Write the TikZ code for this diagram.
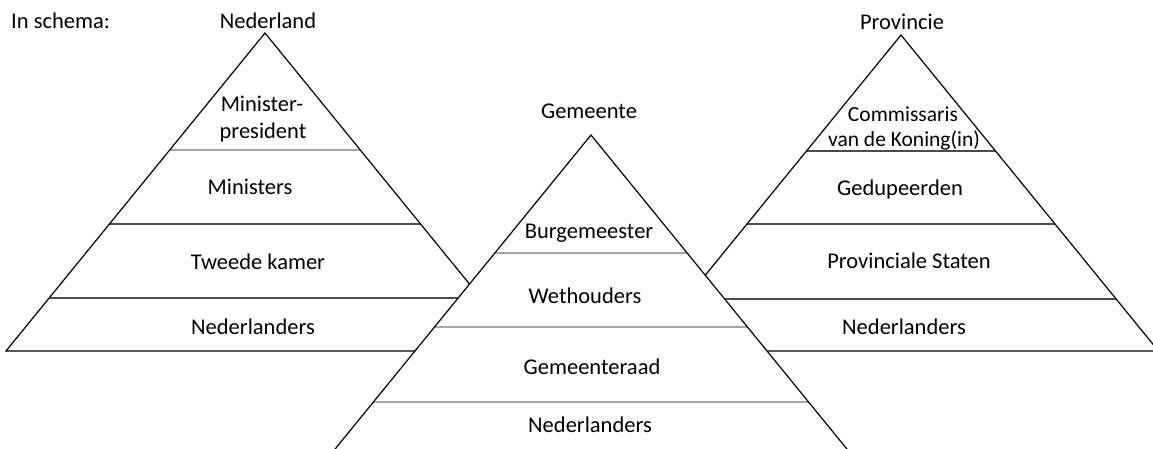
\documentclass[tikz,border=0pt]{standalone}
\usepackage{fontspec}
\setmainfont{Carlito}
\begin{document}
\begin{tikzpicture}[x=1pt,y=-1pt,
  fillw/.style={fill=white},
  outline/.style={draw=black,line width=1.2pt,line join=miter},
  divlight/.style={draw=black!35,line width=1.6pt},
  divdark/.style={draw=black!70,line width=1.4pt},
  lbl/.style={font=\fontsize{22.5}{27}\selectfont,inner sep=0pt,anchor=base},
  lbls/.style={font=\fontsize{21.5}{25}\selectfont,inner sep=0pt,anchor=base},
]
\useasboundingbox (0,0) rectangle (1153,448);
\clip (0,0) rectangle (1153,448);

% ---- left pyramid: Nederland
\coordinate (LA) at (265,33);
\coordinate (LR) at (524,351);
\coordinate (LL) at (6,351);
\path[fillw] (LA) -- (LR) -- (LL) -- cycle;
\begin{scope}
  \clip (LA) -- (LR) -- (LL) -- cycle;
  \draw[divlight] (0,150) -- (600,150);
  \draw[divdark] (0,224) -- (600,224);
  \draw[divdark] (0,298) -- (600,298);
\end{scope}
\draw[outline] (LA) -- (LR) -- (LL) -- cycle;

% ---- right pyramid: Provincie
\coordinate (RA) at (901,35);
\coordinate (RR) at (1158.5,351);
\coordinate (RL) at (643.5,351);
\path[fillw] (RA) -- (RR) -- (RL) -- cycle;
\begin{scope}
  \clip (RA) -- (RR) -- (RL) -- cycle;
  \draw[divdark] (600,151) -- (1200,151);
  \draw[divdark] (600,224) -- (1200,224);
  \draw[divdark] (600,299) -- (1200,299);
\end{scope}
\draw[outline] (RA) -- (RR) -- (RL) -- cycle;

% ---- middle pyramid: Gemeente
\coordinate (MA) at (591,135);
\coordinate (MR) at (868.9,476);
\coordinate (ML) at (313.1,476);
\path[fillw] (MA) -- (MR) -- (ML) -- cycle;
\begin{scope}
  \clip (MA) -- (MR) -- (ML) -- cycle;
  \draw[divlight] (300,253) -- (900,253);
  \draw[divlight] (300,327) -- (900,327);
  \draw[divlight] (300,402) -- (900,402);
\end{scope}
\draw[outline] (MA) -- (MR) -- (ML) -- cycle;

% ---- labels
\node[lbl,anchor=base west] (schema) at (11,28.5) {In schema:};
\node[lbl] (nl) at (268,28.5) {Nederland};
\node[lbl] (mp1) at (262,111.5) {Minister-};
\node[lbl] (mp2) at (263,138.5) {president};
\node[lbl] (min) at (250,194.5) {Ministers};
\node[lbl] (tk) at (258,269.5) {Tweede kamer};
\node[lbl] (nlL) at (253,334.5) {Nederlanders};

\node[lbl] (gem) at (589,118.5) {Gemeente};
\node[lbl] (bm) at (589,238.5) {Burgemeester};
\node[lbl] (weth) at (585,303.5) {Wethouders};
\node[lbl] (gr) at (592,374.5) {Gemeenteraad};
\node[lbl] (nlM) at (590,432.5) {Nederlanders};

\node[lbl] (prov) at (902,29.5) {Provincie};
\node[lbls] (cdk1) at (903,121.5) {Commissaris};
\node[lbls] (cdk2) at (904,146.5) {van de Koning(in)};
\node[lbl] (ged) at (900,195.5) {Gedupeerden};
\node[lbl] (ps) at (909,268.5) {Provinciale Staten};
\node[lbl] (nlR) at (904,334.5) {Nederlanders};
\end{tikzpicture}
\end{document}
